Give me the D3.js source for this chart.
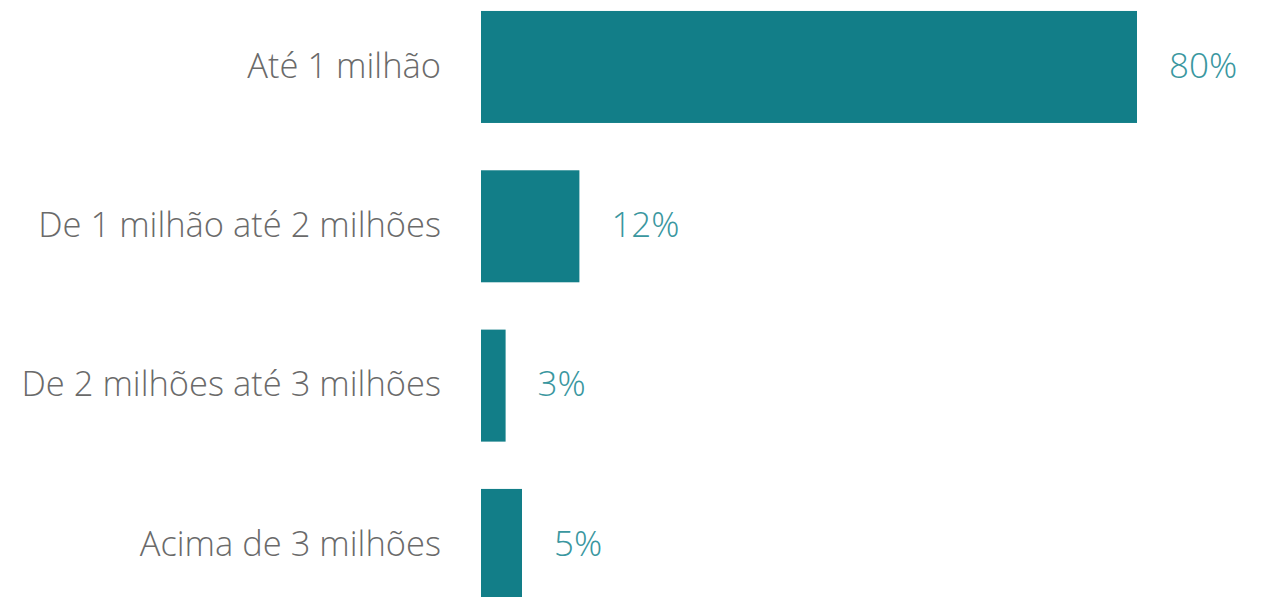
<!DOCTYPE html>
<html>
<head>
<meta charset="utf-8">
<script src="https://cdn.jsdelivr.net/npm/d3@7"></script>
<style>
  html, body { margin: 0; padding: 0; background: #fff; }
  svg { display: block; }
  text { font-family: "Open Sans Light", "Open Sans", sans-serif; font-weight: 300; }
</style>
</head>
<body>
<svg id="chart" width="1261" height="597"></svg>
<script>
// Faixas de patrimônio e a participação de cada uma (%)
const categories = ["Até 1 milhão", "De 1 milhão até 2 milhões", "De 2 milhões até 3 milhões", "Acima de 3 milhões"];
const values = [80, 12, 3, 5];

const svg = d3.select("#chart");

const x = d3.scaleLinear().domain([0, 80]).range([481, 1137]);
const y = d3.scaleBand()
  .domain(categories)
  .range([-12.7, 624.6])
  .paddingInner(0.297)
  .paddingOuter(0.1485);

const data = categories.map((c, i) => ({ c, v: values[i] }));

svg.selectAll("rect.bar")
  .data(data)
  .join("rect")
  .attr("class", "bar")
  .attr("x", x(0))
  .attr("y", d => y(d.c))
  .attr("width", d => x(d.v) - x(0))
  .attr("height", y.bandwidth())
  .attr("fill", "#127e88");

// Rótulos das categorias à esquerda
svg.selectAll("text.cat")
  .data(data)
  .join("text")
  .attr("class", "cat")
  .attr("x", 441)
  .attr("y", d => y(d.c) + y.bandwidth() / 2)
  .attr("dy", "0.31em")
  .attr("text-anchor", "end")
  .attr("font-size", 34.5)
  .attr("fill", "#6a6a6a")
  .text(d => d.c);

// Valores ao final de cada barra
svg.selectAll("text.val")
  .data(data)
  .join("text")
  .attr("class", "val")
  .attr("x", d => x(d.v) + 32)
  .attr("y", d => y(d.c) + y.bandwidth() / 2)
  .attr("dy", "0.31em")
  .attr("font-size", 35)
  .attr("fill", "#3a979f")
  .text(d => d.v + "%");
</script>
</body>
</html>
